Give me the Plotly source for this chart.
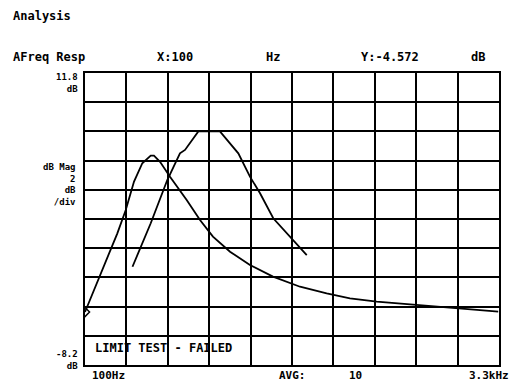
import plotly.graph_objects as go

# Frequency response traces (Hz, dB)
freq_a = [100, 221, 350, 415, 479, 543, 608, 633, 680, 757, 886, 989, 1089,
          1221, 1375, 1553, 1762, 1968, 2148, 2355, 2664, 2973, 3294]
mag_a = [-4.572, -1.92, 0.82, 2.42, 4.36, 5.62, 6.14, 6.14, 5.72, 4.70, 3.10,
         1.73, 0.59, -0.44, -1.35, -2.15, -2.84, -3.29, -3.63, -3.86, -4.09,
         -4.31, -4.55]

freq_b = [467, 608, 736, 834, 873, 976, 1143, 1285, 1375, 1453, 1555, 1659, 1814]
mag_b = [-1.47, 1.51, 4.47, 6.30, 6.53, 7.8, 7.8, 6.30, 4.70, 3.56, 1.85, 0.82, -0.67]

# Marker readout
marker_x = 100
marker_y = -4.572

# Display scale
x_start, x_stop = 100, 3300
y_top, y_bottom = 11.8, -8.2
db_per_div = 2

W, H = 512, 381
L, R, T, B = 85, 13, 73, 16
PW, PH = W - L - R, H - T - B

FONT = "DejaVu Sans Mono"


def px(x):
    return (x - L) / PW


def py(y):
    return (H - B - y) / PH


fig = go.Figure()
fig.add_trace(go.Scatter(x=freq_a, y=mag_a, mode="lines",
                         line=dict(color="black", width=1.8), hoverinfo="skip"))
fig.add_trace(go.Scatter(x=freq_b, y=mag_b, mode="lines",
                         line=dict(color="black", width=1.8), hoverinfo="skip"))
fig.add_trace(go.Scatter(x=[marker_x], y=[marker_y], mode="markers",
                         marker=dict(symbol="diamond-open", size=7,
                                     color="black", line=dict(width=1.5)),
                         hoverinfo="skip"))

labels = [
    # text, x px, y px, xanchor, size
    ("Analysis", 11, 16, "left", 12),
    ("AFreq Resp", 11, 57, "left", 12),
    (f"X:{marker_x}", 155, 57, "left", 12),
    ("Hz", 264, 57, "left", 12),
    (f"Y:{marker_y}", 359, 57, "left", 12),
    ("dB", 469, 57, "left", 12),
    (f"{y_top}<br>dB", 80, 83, "right", 9),
    (f"dB Mag<br>{db_per_div}<br>dB<br>/div", 78, 184, "right", 9),
    (f"{y_bottom}<br>dB", 80, 360, "right", 9),
    ("100Hz", 90, 375, "left", 11),
    ("AVG:", 277, 375, "left", 11),
    ("10", 347, 375, "left", 11),
    ("3.3kHz", 511, 375, "right", 11),
    ("LIMIT TEST - FAILED", 93, 348, "left", 12),
]
for text, x, y, anchor, size in labels:
    fig.add_annotation(text=text, xref="paper", yref="paper", x=px(x), y=py(y),
                       xanchor=anchor, yanchor="middle", align=anchor,
                       showarrow=False,
                       font=dict(family=FONT, size=size, color="black",
                                 weight="bold"))

fig.update_xaxes(range=[x_start, x_stop], tick0=x_start,
                 dtick=(x_stop - x_start) / 10, showticklabels=False,
                 ticks="", showgrid=True, gridcolor="black", gridwidth=2,
                 showline=True, linecolor="black", linewidth=2, mirror=True,
                 zeroline=False, fixedrange=True)
fig.update_yaxes(range=[y_bottom, y_top], tick0=y_bottom, dtick=db_per_div,
                 showticklabels=False, ticks="", showgrid=True,
                 gridcolor="black", gridwidth=2, showline=True,
                 linecolor="black", linewidth=2, mirror=True, zeroline=False,
                 fixedrange=True)

fig.update_layout(width=W, height=H, margin=dict(l=L, r=R, t=T, b=B),
                  paper_bgcolor="white", plot_bgcolor="white",
                  showlegend=False)

fig.write_html("out.html", config={"displayModeBar": False})
